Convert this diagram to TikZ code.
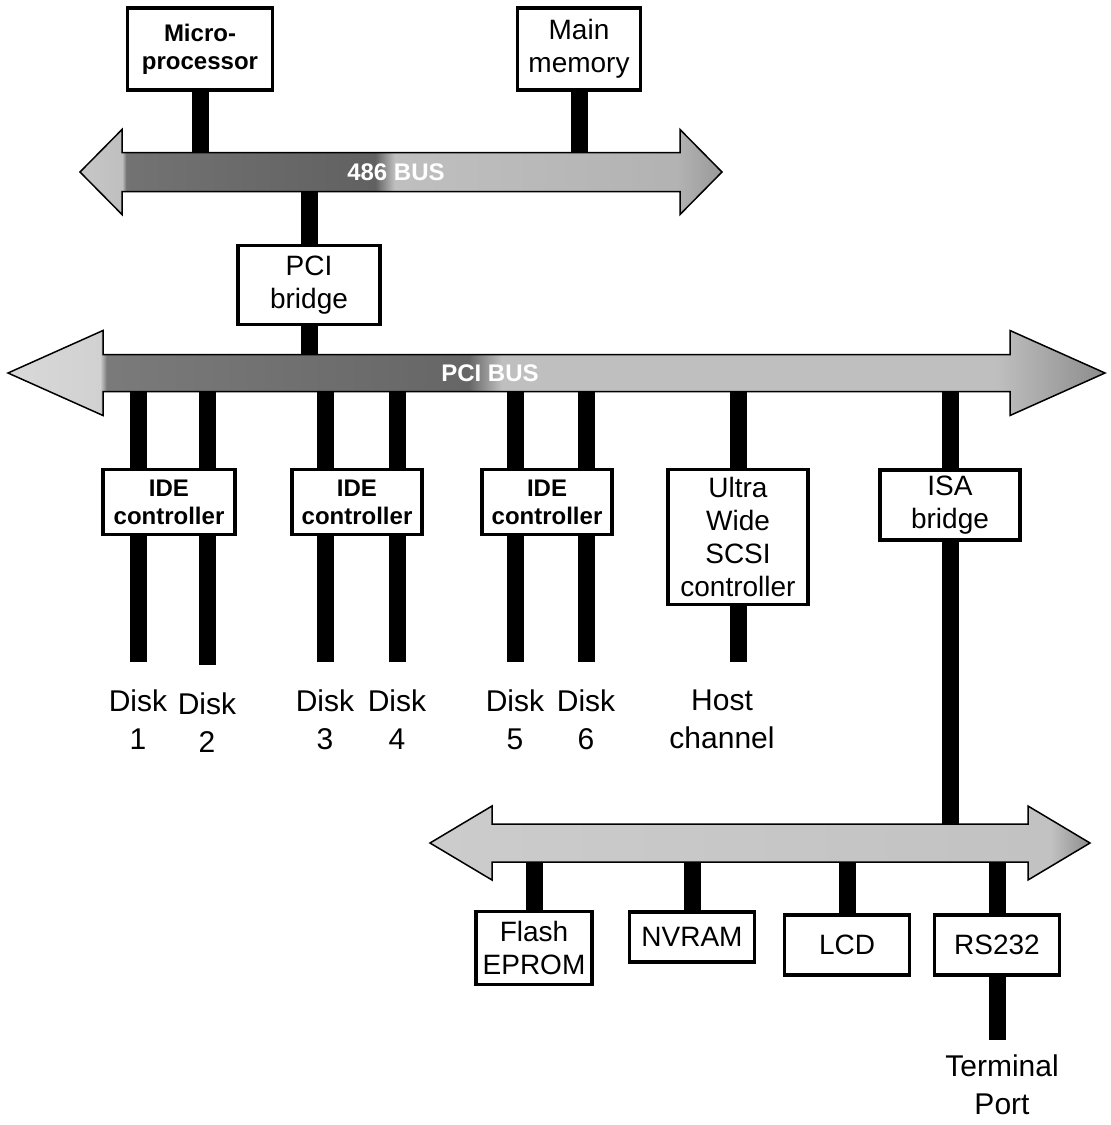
\documentclass[tikz,border=0pt]{standalone}
\usepackage{fontspec}
\setmainfont{Liberation Sans}
\usetikzlibrary{backgrounds}

% grey fills of the three buses (useful range 25bp--75bp)
\pgfdeclarehorizontalshading{busfour}{100bp}{color(0bp)=(black!22); color(25bp)=(black!22); color(28.3bp)=(black!25); color(28.6bp)=(black!55); color(48bp)=(black!62); color(49.5bp)=(black!25); color(71.5bp)=(black!30); color(75bp)=(black!40); color(100bp)=(black!40)}
\pgfdeclarehorizontalshading{buspci}{100bp}{color(0bp)=(black!15); color(25bp)=(black!15); color(29.2bp)=(black!18); color(29.5bp)=(black!52); color(46bp)=(black!60); color(47.5bp)=(black!25); color(70bp)=(black!25); color(75bp)=(black!45); color(100bp)=(black!45)}
\pgfdeclarehorizontalshading{busisa}{100bp}{color(0bp)=(black!20); color(25bp)=(black!20); color(72bp)=(black!24); color(75bp)=(black!45); color(100bp)=(black!45)}

% #1 left tip, #2 right tip, #3 y, #4 half shaft, #5 half head, #6 head length, #7 shading
\newcommand{\busarrow}[7]{%
  \shade[shading=#7, draw=black, line width=1.5pt, line join=miter]
    (#1,#3) -- (#1+#6,#3-#5) -- (#1+#6,#3-#4) -- (#2-#6,#3-#4) -- (#2-#6,#3-#5)
    -- (#2,#3) -- (#2-#6,#3+#5) -- (#2-#6,#3+#4) -- (#1+#6,#3+#4) -- (#1+#6,#3+#5) -- cycle;}

\tikzset{
  unit/.style={draw, line width=3.5pt, fill=white, inner sep=0pt, align=center,
    font=\fontsize{28}{33}\selectfont},
  unitb/.style={unit, font=\fontsize{24}{28}\selectfont\bfseries},
  stem/.style={line width=17pt},
  lbl/.style={inner sep=0pt, align=center, anchor=north, font=\fontsize{30}{38}\selectfont},
  buslbl/.style={text=white, inner sep=0pt, font=\fontsize{24}{24}\selectfont\bfseries}
}

\begin{document}
\begin{tikzpicture}[x=1pt, y=-1pt]
  \useasboundingbox (0,0) rectangle (1111,1125);

  % buses
  \busarrow{80}{722}{172}{19.5}{42.5}{42}{busfour}
  \busarrow{8}{1105}{373}{18.5}{42.5}{95}{buspci}
  \busarrow{430}{1090}{843}{19}{37}{62}{busisa}
  \coordinate (b486) at (0,172);
  \coordinate (bpci) at (0,373);
  \coordinate (bisa) at (0,843);
  \node[buslbl] (l486) at (396,172) {486 BUS};
  \node[buslbl] (lpci) at (490,373) {PCI BUS};

  % units
  \node[unitb, minimum width=145, minimum height=82] (cpu) at (200,49) {Micro-\\processor};
  \node[unit, minimum width=123, minimum height=82] (mem) at (579,49) {Main\\memory};
  \node[unit, minimum width=142, minimum height=79] (pcib) at (309,285) {PCI\\bridge};
  \node[unitb, minimum width=132, minimum height=65] (ide1) at (169,502) {IDE\\controller};
  \node[unitb, minimum width=130, minimum height=65] (ide2) at (357,502) {IDE\\controller};
  \node[unitb, minimum width=130, minimum height=65] (ide3) at (547,502) {IDE\\controller};
  \node[unit, minimum width=140, minimum height=135] (scsi) at (738,537) {Ultra\\Wide\\SCSI\\controller};
  \node[unit, minimum width=140, minimum height=70] (isab) at (950,505) {ISA\\bridge};
  \node[unit, minimum width=116, minimum height=73] (flash) at (534,948) {Flash\\EPROM};
  \node[unit, minimum width=125, minimum height=50] (nvram) at (692,937) {NVRAM};
  \node[unit, minimum width=125, minimum height=60] (lcd) at (847,945) {LCD};
  \node[unit, minimum width=125, minimum height=60] (rs) at (997,945) {RS232};

  % end labels
  \node[lbl] (d1) at (138,690) {Disk\\1};
  \node[lbl] (d2) at (207,693) {Disk\\2};
  \node[lbl] (d3) at (325,690) {Disk\\3};
  \node[lbl] (d4) at (397,690) {Disk\\4};
  \node[lbl] (d5) at (515,690) {Disk\\5};
  \node[lbl] (d6) at (586,690) {Disk\\6};
  \node[lbl] (host) at (722,690) {Host\\channel};
  \node[lbl] (term) at (1002,1055) {Terminal\\Port};
  \coordinate (hostend) at ([yshift=28pt]host.north);
  \coordinate (termend) at ([yshift=15pt]term.north);

  % stems
  \begin{scope}[on background layer]
    \draw[stem] (cpu) -- (cpu |- b486);
    \draw[stem] (mem) -- (mem |- b486);
    \draw[stem] (pcib) -- (pcib |- b486);
    \draw[stem] (pcib) -- (pcib |- bpci);
    \foreach \d in {d1,d2,d3,d4,d5,d6}
      \draw[stem] (\d.north |- bpci) -- ([yshift=28pt]\d.north);
    \draw[stem] (scsi) -- (scsi |- bpci);
    \draw[stem] (scsi) -- (scsi |- hostend);
    \draw[stem] (isab) -- (isab |- bpci);
    \draw[stem] (isab) -- (isab |- bisa);
    \foreach \u in {flash,nvram,lcd,rs}
      \draw[stem] (\u) -- (\u |- bisa);
    \draw[stem] (rs) -- (rs |- termend);
  \end{scope}
\end{tikzpicture}
\end{document}
